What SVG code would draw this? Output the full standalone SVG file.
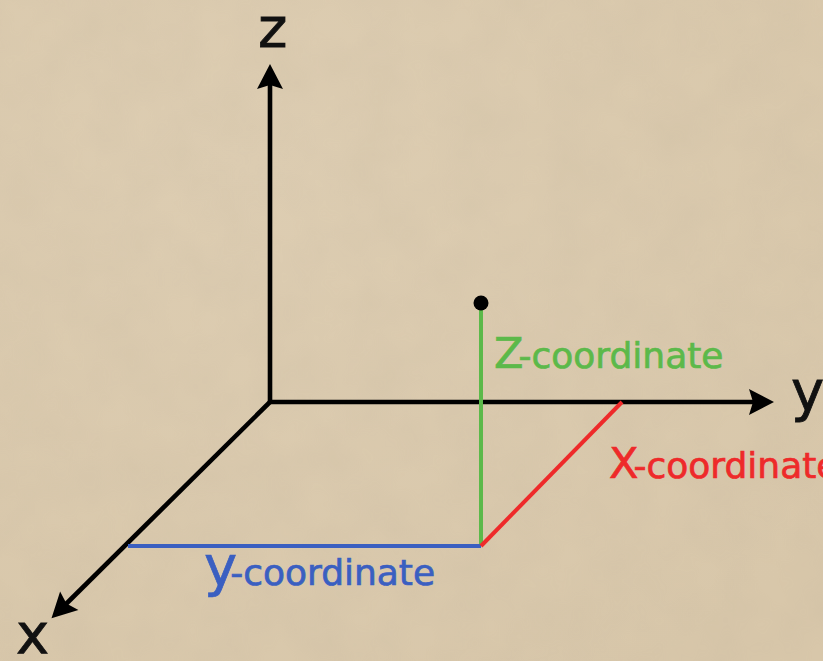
<svg xmlns="http://www.w3.org/2000/svg" width="823" height="661" viewBox="0 0 823 661">
  <style>
    .axis { fill: none; stroke: #000; stroke-width: 4.6; }
    .coord { fill: none; stroke-width: 4; }
    .lbl { font-family: "DejaVu Sans", Verdana, sans-serif; stroke-width: 0.7; }
    .axlbl { font-family: "DejaVu Sans", Verdana, sans-serif; font-size: 56px; fill: #111; stroke: #111; stroke-width: 0.8; }
  </style>
  <defs>
    <marker id="arr" markerUnits="userSpaceOnUse" orient="auto-start-reverse" refX="0" refY="0" markerWidth="40" markerHeight="40" viewBox="-10 -20 40 40" overflow="visible">
      <path d="M-2,0 L-6,-13 L19,0 L-6,13 Z" fill="#000"/>
    </marker>
    <filter id="paper" x="0" y="0" width="100%" height="100%">
      <feTurbulence type="fractalNoise" baseFrequency="0.02" numOctaves="3" seed="4" result="n"/>
      <feColorMatrix type="matrix" values="0 0 0 0 0.45  0 0 0 0 0.38  0 0 0 0 0.28  0 0 0 0.5 -0.12" result="c"/>
      <feComposite in="c" in2="SourceGraphic" operator="in"/>
    </filter>
    <radialGradient id="bg" cx="0.3" cy="0.25" r="0.9">
      <stop offset="0" stop-color="#ddcdb2"/>
      <stop offset="1" stop-color="#d8c7aa"/>
    </radialGradient>
  </defs>

  <rect width="823" height="661" fill="url(#bg)"/>
  <rect width="823" height="661" fill="#d9c8ac" filter="url(#paper)" opacity="0.3"/>

  <g id="connectors">
    <path class="axis" d="M270,83 V402 H755" marker-start="url(#arr)" marker-end="url(#arr)"/>
    <path class="axis" d="M270,402 L65,605" marker-end="url(#arr)"/>
    <path class="coord" stroke="#5cb94a" d="M481,306 V546"/>
    <path class="coord" stroke="#3a5fc1" d="M128,546 H481"/>
    <path class="coord" stroke="#ee2a2a" d="M481,546 L622,402"/>
  </g>

  <g id="point">
    <circle cx="481" cy="303" r="7.5" fill="#000"/>
  </g>

  <g id="axis-z"><text class="axlbl" x="258" y="47">z</text></g>
  <g id="axis-y"><text class="axlbl" x="791" y="410">y</text></g>
  <g id="axis-x"><text class="axlbl" x="16" y="653">x</text></g>

  <g id="label-z">
    <text class="lbl" x="494" y="368" fill="#5cb94a" stroke="#5cb94a" font-size="36"><tspan font-size="43">Z</tspan><tspan dx="-5">-coordinate</tspan></text>
  </g>
  <g id="label-x">
    <text class="lbl" x="609" y="478" fill="#ee2a2a" stroke="#ee2a2a" font-size="36"><tspan font-size="43">X</tspan><tspan dx="-5">-coordinate</tspan></text>
  </g>
  <g id="label-y">
    <text class="lbl" x="204" y="585" fill="#3a5fc1" stroke="#3a5fc1" font-size="36"><tspan font-size="56">y</tspan><tspan dx="-7">-coordinate</tspan></text>
  </g>
</svg>
